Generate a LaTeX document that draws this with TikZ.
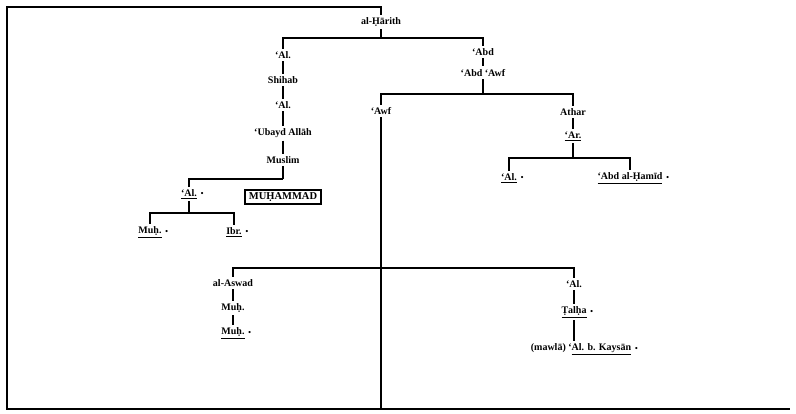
\documentclass[tikz,border=0pt]{standalone}
\usepackage{fontspec}
\setmainfont{Liberation Serif}
\begin{document}
\begin{tikzpicture}[x=1pt,y=-1pt,line width=1.3pt,
  every node/.style={font=\fontsize{10}{12}\selectfont\bfseries,inner sep=2pt},
  bul/.style={label={[inner sep=0.4pt,font=\fontsize{9}{10}\selectfont]right:•}},
  tick/.style={shorten <=0.3pt,shorten >=0.3pt},
  mbox/.style={draw,line width=1.3pt,font=\fontsize{10.5}{12}\selectfont\bfseries,inner xsep=4pt,inner ysep=2.5pt}]
\useasboundingbox (0,0) rectangle (796,413);
% nodes
\node (harith) at (381,22) {al-Ḥārith};
\node (al1) at (283,55) {‘Al.};
\node (shihab) at (283,80) {Shihab};
\node (al2) at (283,105) {‘Al.};
\node (ubayd) at (283,133) {‘Ubayd Allāh};
\node (muslim) at (283,160) {Muslim};
\node[bul] (al3) at (189,194) {\underline{‘Al.}};
\node[mbox] (muh) at (283,197) {MUḤAMMAD};
\node[bul] (muh1) at (150,232) {\underline{Muḥ.}};
\node[bul] (ibr) at (234,232) {\underline{Ibr.}};
\node (abd) at (483,52) {‘Abd};
\node (abdawf) at (483,73) {‘Abd ‘Awf};
\node (awf) at (381,111) {‘Awf};
\node (athar) at (573,112) {Athar};
\node (ar) at (573,136) {\underline{‘Ar.}};
\node[bul] (al4) at (509,178) {\underline{‘Al.}};
\node[bul] (hamid) at (630,178) {\underline{‘Abd al-Ḥamīd}};
\node (aswad) at (233,283) {al-Aswad};
\node (muh2) at (233,308) {Muḥ.};
\node[bul] (muh3) at (233,333) {\underline{Muḥ.}};
\node (al5) at (574,284) {‘Al.};
\node[bul] (talha) at (574,312) {\underline{Ṭalḥa}};
\node[bul,anchor=north] (kaysan) at (581,341) {(mawlā) ‘\underline{Al. b. Kaysān}};
% coordinates
\coordinate (tl) at (7,7);
\coordinate (bl) at (7,409);
\coordinate (br) at (790,409);
\coordinate (b1) at (381,38);
\coordinate (b2) at (283,179);
\coordinate (b3) at (189,213);
\coordinate (b4) at (483,94);
\coordinate (b5) at (573,158);
\coordinate (b6) at (381,268);
% connectors
\draw (harith.north) |- (tl) -- (bl) -- (br);
\draw (harith.south) -- (b1);
\draw (al1.north) |- (b1) -| (abd.north);
\draw[tick] (al1) -- (shihab);
\draw[tick] (shihab) -- (al2);
\draw[tick] (al2) -- (ubayd);
\draw[tick] (ubayd) -- (muslim);
\draw (muslim.south) -- (b2);
\draw (al3.north) |- (b2);
\draw (al3.south) -- (b3);
\draw (muh1.north) |- (b3) -| (ibr.north);
\draw[tick] (abd) -- (abdawf);
\draw (abdawf.south) -- (b4);
\draw (awf.north) |- (b4) -| (athar.north);
\draw (awf.south) -- (awf.south |- bl);
\draw[tick] (athar) -- (ar);
\draw (ar.south) -- (b5);
\draw (al4.north) |- (b5) -| (hamid.north);
\draw (aswad.north) |- (b6) -| (al5.north);
\draw[tick] (aswad) -- (muh2);
\draw[tick] (muh2) -- (muh3);
\draw[tick] (al5) -- (talha);
\draw[tick] (talha.south) -- (talha.south |- kaysan.north);
\end{tikzpicture}
\end{document}
